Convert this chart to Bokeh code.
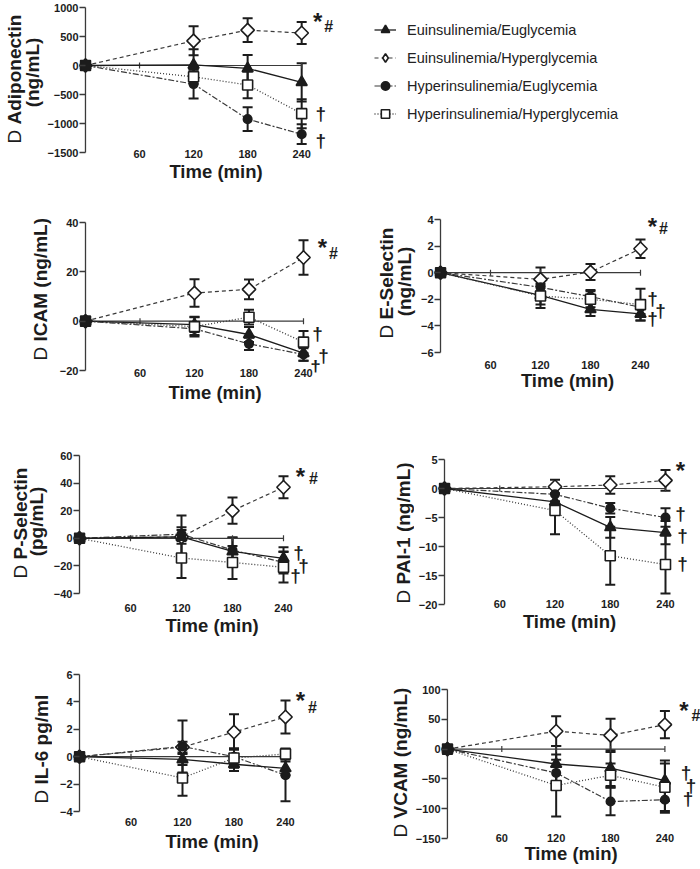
import math
from bokeh.plotting import figure
from bokeh.layouts import column, row
from bokeh.models import (Range1d, LinearAxis, FixedTicker, Whisker, TeeHead,
                          ColumnDataSource, Label, Legend, LegendItem)
from bokeh.embed import file_html
from bokeh.resources import INLINE

FONT = "Liberation Sans"
INK = "#1c1c1c"
LINE = "#3a3a3a"

# ---------------- data ----------------
TIME = [0, 120, 180, 240]
XTICKS = [60, 120, 180, 240]
GROUPS = ["Euinsulinemia/Euglycemia", "Euinsulinemia/Hyperglycemia",
          "Hyperinsulinemia/Euglycemia", "Hyperinsulinemia/Hyperglycemia"]

ADIPO_TICKS = [-1500, -1000, -500, 0, 500, 1000]
ADIPO_EE = [0, 10, -50, -290]
ADIPO_EE_SE = [0, 270, 230, 330]
ADIPO_EH = [0, 425, 610, 560]
ADIPO_EH_SE = [0, 250, 205, 190]
ADIPO_HE = [0, -320, -925, -1185]
ADIPO_HE_SE = [0, 250, 205, 170]
ADIPO_HH = [0, -195, -335, -830]
ADIPO_HH_SE = [0, 120, 230, 250]

ICAM_TICKS = [-20, 0, 20, 40]
ICAM_EE = [0, -1.4, -5.4, -13.0]
ICAM_EE_SE = [0, 3, 3, 3]
ICAM_EH = [0, 11.4, 12.9, 25.8]
ICAM_EH_SE = [0, 5.6, 4, 7]
ICAM_HE = [0, -3.1, -9.2, -13.5]
ICAM_HE_SE = [0, 2.5, 2.5, 2.5]
ICAM_HH = [0, -2.2, 1.6, -8.5]
ICAM_HH_SE = [0, 4, 3, 4.5]

ESEL_TICKS = [-6, -4, -2, 0, 2, 4]
ESEL_EE = [0, -1.7, -2.75, -3.1]
ESEL_EE_SE = [0, 0.7, 0.5, 0.5]
ESEL_EH = [0, -0.5, 0.05, 1.8]
ESEL_EH_SE = [0, 0.9, 0.6, 0.7]
ESEL_HE = [0, -1.1, -1.8, -2.6]
ESEL_HE_SE = [0, 0.6, 0.5, 0.5]
ESEL_HH = [0, -1.75, -2.0, -2.4]
ESEL_HH_SE = [0, 0.9, 0.6, 1.2]

PSEL_TICKS = [-40, -20, 0, 20, 40, 60]
PSEL_EE = [0, 1, -9.5, -14.5]
PSEL_EE_SE = [0, 15.5, 10, 8]
PSEL_EH = [0, 1, 20, 37]
PSEL_EH_SE = [0, 5, 9.5, 8]
PSEL_HE = [0, 3, -8.5, -17.5]
PSEL_HE_SE = [0, 5, 9, 8]
PSEL_HH = [0, -14.3, -17.5, -21]
PSEL_HH_SE = [0, 14.5, 12, 11]

PAI_TICKS = [-20, -15, -10, -5, 0, 5]
PAI_EE = [0, -2.3, -6.7, -7.6]
PAI_EE_SE = [0, 1.5, 1.8, 2.0]
PAI_EH = [0, 0.3, 0.6, 1.4]
PAI_EH_SE = [0, 1.2, 1.5, 1.8]
PAI_HE = [0, -1.0, -3.4, -5.0]
PAI_HE_SE = [0, 1.2, 0.9, 1.6]
PAI_HH = [0, -3.8, -11.6, -13.1]
PAI_HH_SE = [0, 4.1, 5.0, 5.0]

IL6_TICKS = [-4, -2, 0, 2, 4, 6]
IL6_EE = [0, -0.2, -0.55, -0.85]
IL6_EE_SE = [0, 0.4, 0.5, 0.5]
IL6_EH = [0, 0.7, 1.8, 2.9]
IL6_EH_SE = [0, 0.4, 1.3, 1.2]
IL6_HE = [0, 0.75, 0.0, -1.35]
IL6_HE_SE = [0, 1.9, 0.6, 1.9]
IL6_HH = [0, -1.55, -0.1, 0.2]
IL6_HH_SE = [0, 1.3, 0.7, 0.4]

VCAM_TICKS = [-150, -100, -50, 0, 50, 100]
VCAM_EE = [0, -25, -32, -53]
VCAM_EE_SE = [0, 30, 30, 34]
VCAM_EH = [0, 30, 23, 41]
VCAM_EH_SE = [0, 25, 28, 23]
VCAM_HE = [0, -40, -88, -85]
VCAM_HE_SE = [0, 22, 23, 22]
VCAM_HH = [0, -61, -44, -64]
VCAM_HH_SE = [0, 52, 20, 40]

# ---------------- styles ----------------
STYLES = [
    dict(marker="triangle", legend_marker="triangle", size=11, dash="solid", lw=1.3,
         angle=0.0, open=False),
    dict(marker="square", legend_marker="diamond", size=9.5, dash="4 3", lw=1.2,
         angle=math.pi / 4, open=True),
    dict(marker="circle", legend_marker="circle", size=8.5, dash="6 2 2 2", lw=1.2,
         angle=0.0, open=False),
    dict(marker="square", legend_marker="square", size=10, dash="1 2", lw=1.3,
         angle=0.0, open=True),
]
DRAW_ORDER = [1, 2, 0, 3]

# rows: top (px), height, bottom border shared by every figure in the row
ROWS = [(0, 200, 44), (200, 220, 48), (420, 220, 36), (640, 228, 30)]
LEGEND_X = 352            # left edge of the legend strip (page px)

# per-panel placement, in page pixels
LAYOUT = {
    "adipo": dict(row=0, col=0, W=LEGEND_X, tw=44, ax=84, x240=301, ytop=7, ybot=152,
                  lab_y=155, time_y=173, t1=(14, 143), t2=(32, 72),
                  stars=[("*", 1, 16, 12), ("#", 1, 27, 7)],
                  daggers=[(3, 19, 0), (2, 19, -6)]),
    "icam": dict(row=1, col=0, W=350, tw=52, ax=85, x240=303, ytop=222, ybot=370,
                 lab_y=374, time_y=393, t1=(40, 360), t2=None,
                 stars=[("*", 1, 19, 10), ("#", 1, 30, 4)],
                 daggers=[(3, 14, 9), (0, 20, -2), (2, 12, -12)]),
    "esel": dict(row=1, col=350, W=350, tw=66, ax=440, x240=640, ytop=219, ybot=352,
                 lab_y=366, time_y=382, t1=(386, 338), t2=(404, 281),
                 stars=[("*", 1, 12, 22), ("#", 1, 23, 20)],
                 daggers=[(3, 12, 6), (2, 20, -3), (0, 12, -5)]),
    "psel": dict(row=2, col=0, W=350, tw=48, ax=79, x240=283, ytop=455, ybot=593,
                 lab_y=609, time_y=627, t1=(20, 578), t2=(36, 521),
                 stars=[("*", 1, 17, 11), ("#", 1, 30, 9)],
                 daggers=[(0, 15, 6), (2, 20, -3), (3, 12, -8)]),
    "pai": dict(row=2, col=350, W=350, tw=64, ax=444, x240=665, ytop=459, ybot=604,
                lab_y=605, time_y=622, t1=(403, 603), t2=None,
                stars=[("*", 1, 15, 10)],
                daggers=[(2, 15, 4), (0, 17, -3), (3, 17, 1)]),
    "il6": dict(row=3, col=0, W=350, tw=52, ax=79, x240=285, ytop=674, ybot=811,
                lab_y=823, time_y=843, t1=(41, 803), t2=None,
                stars=[("*", 1, 15, 16), ("#", 1, 27, 9)],
                daggers=[]),
    "vcam": dict(row=3, col=350, W=350, tw=62, ax=444, x240=664, ytop=689, ybot=838,
                 lab_y=839, time_y=855, t1=(400, 837), t2=None,
                 stars=[("*", 1, 19, 14), ("#", 1, 31, 9)],
                 daggers=[(0, 21, 8), (3, 26, 2), (2, 23, 1)]),
}


def blank_figure(width, height, minb, xr=(0, 1)):
    f = figure(width=width, height=height, x_range=Range1d(*xr), y_range=Range1d(0, 1),
               x_axis_type=None, y_axis_type=None, output_backend="svg",
               toolbar_location=None, min_border_left=0, min_border_right=0,
               min_border_top=0, min_border_bottom=minb)
    f.outline_line_color = None
    f.background_fill_color = "white"
    f.border_fill_color = "white"
    return f


def make_panel(key, title1, title2, ticks, vals, errs):
    lay = LAYOUT[key]
    rtop, H, minb = ROWS[lay["row"]]
    fb = H - minb                       # frame bottom (local px)
    tw = lay["tw"]
    ox = lay["col"] + tw                # page x of plot figure
    W = lay["W"] - tw
    ax = lay["ax"] - ox
    x240 = lay["x240"] - ox
    ytop = lay["ytop"] - rtop
    ybot = lay["ybot"] - rtop
    sx = (x240 - ax) / 240.0
    fl = ax - 6
    x0 = -(ax - fl) / sx
    x1 = (W - ax) / sx
    ymin, ymax = min(ticks), max(ticks)
    k = (ybot - ytop) / float(ymax - ymin)
    y1 = ymax + ytop / k
    y0 = ymin - (fb - ybot) / k
    lab_top = lay["lab_y"] - 6 - rtop
    standoff = int(round(lab_top - fb))
    als = int(round(lay["time_y"] - lay["lab_y"] - 17.5))

    # ---- title strip ----
    t = blank_figure(tw, H, minb)

    def slabel(lx, ly, text, style, align):
        t.add_layout(Label(x=lx, y=fb - ly, x_units="screen", y_units="screen",
                           text=text, angle=math.pi / 2, text_font=FONT,
                           text_font_style=style, text_font_size="19px",
                           text_color=INK, text_align=align, text_baseline="middle"))

    tx, ty = lay["t1"]
    slabel(tx - lay["col"], ty - rtop, "D", "normal", "left")
    slabel(tx - lay["col"], ty - rtop - 19, title1, "bold", "left")
    if title2 is not None:
        t2x, t2y = lay["t2"]
        slabel(t2x - lay["col"], t2y - rtop, title2, "bold", "center")

    # ---- plot ----
    p = figure(width=W, height=H, x_range=Range1d(x0, x1), y_range=Range1d(y0, y1),
               x_axis_type=None, y_axis_type=None,
               output_backend="svg", toolbar_location=None,
               min_border_left=fl, min_border_right=0,
               min_border_top=0, min_border_bottom=minb)
    p.outline_line_color = None
    p.background_fill_color = "white"
    p.border_fill_color = "white"

    yax = LinearAxis(ticker=FixedTicker(ticks=ticks))
    yax.axis_line_color = None
    yax.major_tick_line_color = LINE
    yax.major_tick_line_width = 1.3
    yax.major_tick_out = 0
    yax.major_tick_in = 6
    yax.minor_tick_line_color = None
    yax.major_label_text_font = FONT
    yax.major_label_text_font_style = "bold"
    yax.major_label_text_font_size = "11px"
    yax.major_label_text_color = INK
    yax.major_label_standoff = 1
    p.add_layout(yax, "left")

    xax = LinearAxis(ticker=FixedTicker(ticks=XTICKS), bounds=(60, 240))
    xax.axis_line_color = None
    xax.major_tick_line_color = None
    xax.minor_tick_line_color = None
    xax.major_tick_out = 0
    xax.major_tick_in = 0
    xax.major_label_text_font = FONT
    xax.major_label_text_font_style = "bold"
    xax.major_label_text_font_size = "11px"
    xax.major_label_text_color = INK
    xax.major_label_standoff = standoff
    xax.axis_label = "Time (min)"
    xax.axis_label_text_font = FONT
    xax.axis_label_text_font_style = "bold"
    xax.axis_label_text_font_size = "18.5px"
    xax.axis_label_text_color = INK
    xax.axis_label_standoff = als
    p.add_layout(xax, "below")

    # y axis line at time 0 and zero reference line with small ticks
    p.line(x=[TIME[0], TIME[0]], y=[ymin, ymax], line_color=LINE, line_width=1.3)
    p.line(x=[TIME[0], TIME[-1]], y=[0, 0], line_color=LINE, line_width=1.2)
    p.scatter(x=XTICKS, y=[0] * len(XTICKS), marker="dash", angle=math.pi / 2,
              size=6, line_color=LINE, line_width=1.2)

    # error bars
    for i in DRAW_ORDER:
        b, up, lo = [], [], []
        for tt, v, e in zip(TIME, vals[i], errs[i]):
            if e > 0:
                b.append(tt)
                up.append(v + e)
                lo.append(v - e)
        src = ColumnDataSource(dict(base=b, upper=up, lower=lo))
        w = Whisker(base="base", upper="upper", lower="lower", source=src,
                    dimension="height", line_color=INK, line_width=2,
                    upper_head=TeeHead(size=10, line_color=INK, line_width=2),
                    lower_head=TeeHead(size=10, line_color=INK, line_width=2),
                    level="underlay")
        p.add_layout(w)

    for i in DRAW_ORDER:
        st = STYLES[i]
        src = ColumnDataSource(dict(t=TIME, v=vals[i]))
        p.line("t", "v", source=src, line_color=LINE if i else INK,
               line_width=st["lw"], line_dash=st["dash"])
    for i in DRAW_ORDER:
        st = STYLES[i]
        fill = [INK if (tt == 0 or not st["open"]) else "white" for tt in TIME]
        src = ColumnDataSource(dict(t=TIME, v=vals[i], fill=fill))
        p.scatter("t", "v", source=src, marker=st["marker"], size=st["size"],
                  angle=st["angle"], fill_color="fill", line_color=INK,
                  line_width=1.6)

    # significance marks
    for text, si, dx, upo in lay["stars"]:
        big = text == "*"
        p.add_layout(Label(x=TIME[-1], y=vals[si][-1], x_offset=dx,
                           y_offset=upo, text=text,
                           text_font=FONT, text_font_style="bold",
                           text_font_size="24px" if big else "16px",
                           text_color=INK, text_align="center",
                           text_baseline="middle"))
    for si, dx, upo in lay["daggers"]:
        p.add_layout(Label(x=TIME[-1], y=vals[si][-1], x_offset=dx, y_offset=upo,
                           text="\u2020", text_font=FONT, text_font_style="bold",
                           text_font_size="19px", text_color=INK,
                           text_align="center", text_baseline="middle"))
    return t, p


def make_legend(vals):
    """Legend strip; its renderers carry the Adiponectin series but the strip's
    x range lies before time 0, so only the legend itself is visible."""
    rtop, H, minb = ROWS[0]
    fb = H - minb
    W = 700 - LEGEND_X
    f = blank_figure(W, H, minb, xr=(-20, -10))
    items = []
    for i in range(4):
        st = STYLES[i]
        src = ColumnDataSource(dict(t=TIME, v=vals[i]))
        lr = f.line("t", "v", source=src, line_color=LINE if i else INK,
                    line_width=st["lw"], line_dash=st["dash"])
        sr = f.scatter("t", "v", source=src, marker=st["legend_marker"], size=st["size"],
                       fill_color="white" if st["open"] else INK, line_color=INK,
                       line_width=1.6)
        items.append(LegendItem(label=GROUPS[i], renderers=[lr, sr], index=1))
    leg_left = 374 - LEGEND_X
    leg_bottom = 124 - rtop
    leg = Legend(items=items, location=(leg_left, fb - leg_bottom), orientation="vertical")
    leg.padding = 0
    leg.margin = 0
    leg.spacing = 7
    leg.glyph_width = 22
    leg.glyph_height = 21
    leg.label_height = 21
    leg.label_standoff = 11
    leg.border_line_color = None
    leg.background_fill_alpha = 0
    leg.label_text_font = FONT
    leg.label_text_font_size = "14.5px"
    leg.label_text_color = "#222222"
    f.add_layout(leg)
    return f


ADIPO_ALL = [ADIPO_EE, ADIPO_EH, ADIPO_HE, ADIPO_HH]
tA, pA = make_panel("adipo", "Adiponectin", "(ng/mL)", ADIPO_TICKS, ADIPO_ALL,
                    [ADIPO_EE_SE, ADIPO_EH_SE, ADIPO_HE_SE, ADIPO_HH_SE])
lg = make_legend(ADIPO_ALL)
tB, pB = make_panel("icam", "ICAM (ng/mL)", None, ICAM_TICKS,
                    [ICAM_EE, ICAM_EH, ICAM_HE, ICAM_HH],
                    [ICAM_EE_SE, ICAM_EH_SE, ICAM_HE_SE, ICAM_HH_SE])
tC, pC = make_panel("esel", "E-Selectin", "(ng/mL)", ESEL_TICKS,
                    [ESEL_EE, ESEL_EH, ESEL_HE, ESEL_HH],
                    [ESEL_EE_SE, ESEL_EH_SE, ESEL_HE_SE, ESEL_HH_SE])
tD, pD = make_panel("psel", "P-Selectin", "(pg/mL)", PSEL_TICKS,
                    [PSEL_EE, PSEL_EH, PSEL_HE, PSEL_HH],
                    [PSEL_EE_SE, PSEL_EH_SE, PSEL_HE_SE, PSEL_HH_SE])
tE, pE = make_panel("pai", "PAI-1 (ng/mL)", None, PAI_TICKS,
                    [PAI_EE, PAI_EH, PAI_HE, PAI_HH],
                    [PAI_EE_SE, PAI_EH_SE, PAI_HE_SE, PAI_HH_SE])
tF, pF = make_panel("il6", "IL-6 pg/ml", None, IL6_TICKS,
                    [IL6_EE, IL6_EH, IL6_HE, IL6_HH],
                    [IL6_EE_SE, IL6_EH_SE, IL6_HE_SE, IL6_HH_SE])
tG, pG = make_panel("vcam", "VCAM (ng/mL)", None, VCAM_TICKS,
                    [VCAM_EE, VCAM_EH, VCAM_HE, VCAM_HH],
                    [VCAM_EE_SE, VCAM_EH_SE, VCAM_HE_SE, VCAM_HH_SE])

layout = column(row(tA, pA, lg), row(tB, pB, tC, pC), row(tD, pD, tE, pE),
                row(tF, pF, tG, pG))
open("out.html", "w").write(file_html(layout, INLINE))
